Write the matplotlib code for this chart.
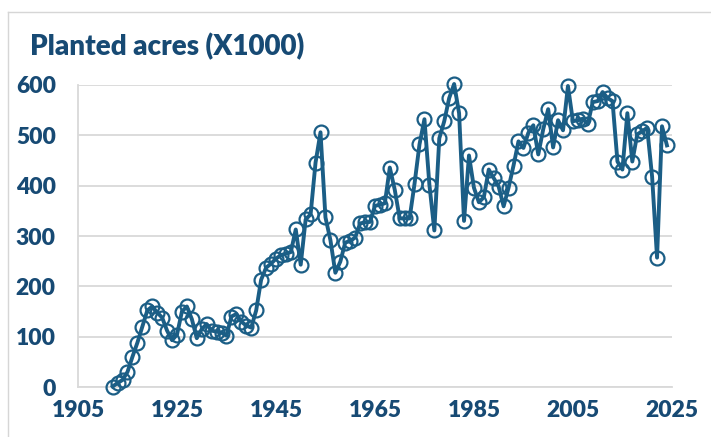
# coding: utf-8
# Planted acres (X1000), 1912-2024

import matplotlib
matplotlib.use("Agg")
import matplotlib.pyplot as plt
from matplotlib.lines import Line2D

# years of the series
years = list(range(1912, 2025))

# planted acres, thousands
acres_1912 = [1, 8, 14, 30, 60, 88, 120, 152]
acres_1920 = [160, 148, 138, 112, 93, 104, 150, 160, 135, 97]
acres_1930 = [115, 125, 112, 110, 108, 102, 140, 145, 130, 122]
acres_1940 = [118, 152, 213, 237, 245, 255, 262, 265, 268, 313]
acres_1950 = [243, 333, 343, 446, 506, 337, 292, 227, 249, 287]
acres_1960 = [290, 297, 325, 327, 328, 360, 362, 365, 436, 392]
acres_1970 = [335, 335, 335, 404, 482, 532, 402, 311, 494, 528]
acres_1980 = [574, 602, 544, 330, 460, 396, 367, 377, 432, 415]
acres_1990 = [398, 359, 396, 440, 488, 475, 505, 520, 462, 512]
acres_2000 = [552, 476, 530, 510, 598, 528, 530, 533, 522, 566]
acres_2010 = [568, 586, 574, 568, 448, 432, 544, 448, 502, 508]
acres_2020 = [515, 418, 257, 518, 480]

acres = (acres_1912 + acres_1920 + acres_1930 + acres_1940 + acres_1950
         + acres_1960 + acres_1970 + acres_1980 + acres_1990 + acres_2000
         + acres_2010 + acres_2020)

xticks = [1905, 1925, 1945, 1965, 1985, 2005, 2025]
yticks = [0, 100, 200, 300, 400, 500, 600]

line_col = "#1B5E86"
text_col = "#174A74"
grid_col = "#D9D9D9"

plt.rcParams['font.family'] = ['Lato', 'DejaVu Sans']

fig = plt.figure(figsize=(7.11, 4.37), dpi=100)
ax = fig.add_axes([0.1097, 0.1144, 0.8353, 0.6911])

ax.plot(years, acres, color=line_col, lw=2.8, marker="o", ms=10,
        mfc="none", mec=line_col, mew=1.6, clip_on=False, zorder=3)

ax.set_xlim(1905, 2025)
ax.set_ylim(0, 600)
ax.set_xticks(xticks)
ax.set_yticks(yticks)

ax.grid(axis="y", color=grid_col, lw=1.3, zorder=0)
for s in ["top", "right"]:
    ax.spines[s].set_visible(False)
for s in ["left", "bottom"]:
    ax.spines[s].set_color(grid_col)
    ax.spines[s].set_linewidth(1.3)

ax.tick_params(axis="both", length=0, labelsize=16.5, labelcolor=text_col)
ax.tick_params(axis="y", pad=16)
ax.tick_params(axis="x", pad=9)
for lab in ax.get_xticklabels() + ax.get_yticklabels():
    lab.set_fontweight("heavy")

fig.text(30 / 711, 1 - 47 / 437, "Planted acres (X1000)", fontsize=20,
         fontweight="heavy", color=text_col, va="center", ha="left")

# light frame of the chart area (top and left edges)
fig.add_artist(Line2D([8 / 711, 1], [1 - 12 / 437, 1 - 12 / 437],
                      transform=fig.transFigure, color="#D6D6D6", lw=1))
fig.add_artist(Line2D([8 / 711, 8 / 711], [0, 1 - 12 / 437],
                      transform=fig.transFigure, color="#D6D6D6", lw=1))

fig.savefig("out.png", dpi=100)
